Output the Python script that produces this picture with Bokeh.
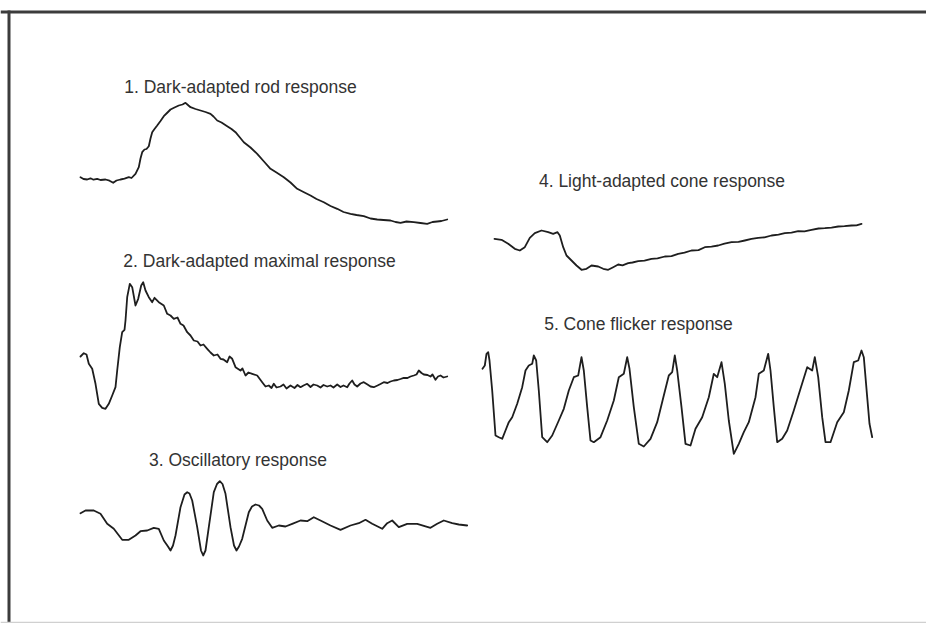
from bokeh.plotting import figure
from bokeh.models import Range1d, Span, ColumnDataSource
from bokeh.embed import file_html
from bokeh.resources import INLINE
from bokeh.core.properties import value

# ---------------- data (time in sample units, amplitude in relative units) ----------------
rod_t = [0, 3, 6.7, 10, 13, 16.7, 20, 25, 29, 32.7, 36, 40, 44, 48.3, 51, 55, 58.3, 60, 61.7, 64, 66,
         68.3, 70, 71.7, 74, 76.7, 80, 83.3, 86.5, 90, 94, 98.3, 102, 105, 108, 110, 115, 120, 125, 130,
         133, 136.7, 141, 146.7, 151, 155, 159, 163.3, 170, 176.7, 183, 190, 196, 203.3, 210, 216.7, 223,
         230, 236, 243.3, 250, 256.7, 263, 270, 276, 283.3, 290, 296.7, 303, 310, 315, 320, 326, 333.3,
         340, 346.7, 352, 356.7, 361, 366.7]
rod_v = [3.3, 1.5, 1, 2.2, 0.8, 1.7, 0.5, 1, -0.2, -2.3, 0, 1, 1.8, 3.3, 2.5, 6.7, 13.3, 22, 28.3, 31, 31.5,
         34.3, 42, 48.3, 51.5, 55, 59.5, 64.3, 67.5, 71, 73, 75, 76, 77.7, 75, 73.3, 71.5, 70, 68.5, 66.7,
         64, 60, 58, 54.3, 51.5, 48.3, 43.5, 38.3, 33, 26.7, 19.5, 11.7, 8, 3.3, -2, -8.3, -11.5,
         -15, -18.5, -21.7, -25.5, -28.3, -31.5, -33.3, -34.5, -35.7, -38, -39, -39.5, -40, -41.5, -42.3, -41, -41.7,
         -42.5, -43.3, -41.5, -41, -40.5, -39]

max_t = [0, 3.3, 6, 8.3, 11.7, 15, 18.3, 21.7, 25, 28.3, 31.7, 35, 36.7, 39.3, 41.7, 44, 45, 46.7, 49.3, 51.7,
         55, 57.7, 60.7, 62.7, 65, 68.3, 71.7, 74, 78.3, 83.3, 86.7, 90, 93.3, 97, 100, 103, 106.7, 110,
         113.3, 117, 120, 123, 126.7, 130, 133.3, 137, 140, 143, 146.7, 149, 151.7, 155, 160, 162, 165, 168,
         171.7, 176.7, 181.7, 185, 188.3, 191, 193.3, 196, 200, 203, 206, 210, 214, 217, 220, 223, 226.7,
         230, 233, 236.7, 240, 243, 246.7, 250, 253, 256.7, 260, 263, 266.7, 269, 271.7, 274, 276.7, 280,
         283.3, 287, 290, 293.3, 297, 300, 303.3, 307, 310, 313.3, 317, 320, 323.3, 327, 330, 333.3, 336,
         338.3, 341, 343.3, 347, 350, 352, 355, 357.5, 360, 363, 366.7]
max_v = [4, 7.3, 6, -3.3, -8.3, -23.3, -43.3, -47.3, -48.3, -43.3, -35, -26.7, -10, 13.3, 28.3, 30.7, 40, 63.3, 76.7, 73.3,
         55, 61.7, 75, 78.3, 70, 63.3, 58.3, 62.7, 58.3, 55, 46.7, 45, 41.7, 43, 36.7, 35, 28.3, 25,
         20, 19, 15, 16, 11.7, 8, 5, 6, 1.7, 1, -1.7, 4, 1.7, -6.7, -10, -8, -15, -12,
         -13.3, -15, -21.7, -26, -25, -27.5, -23.3, -27, -26, -24, -28, -25, -27.5, -24.5, -26.7, -25, -23.3,
         -26.5, -24, -25, -27, -24.5, -26, -25, -27, -24, -26.5, -25, -26.7, -23, -20, -24, -26, -23,
         -21.7, -24, -26, -26.7, -25, -23.5, -21.7, -22.5, -21, -20, -19.5, -18.5, -17.3, -17.5, -16, -15, -14,
         -10, -12.5, -14, -14.5, -16, -14, -19.3, -16, -15, -17, -16]

osc_t = [0, 5, 13.3, 20, 26.7, 33.3, 41.7, 48.3, 55, 60, 66.7, 73.3, 78.3, 83.3, 87.5, 90, 92.5, 95, 100,
         104, 106.7, 109, 111.7, 116.7, 120.5, 122.7, 125, 128.3, 133.3, 136.5, 139.3, 142, 145, 150,
         153.5, 156, 158.5, 161.7, 168.3, 171.5, 175, 178.5, 181.7, 186.7, 191.7, 198.3, 205, 211.7, 220,
         226.7, 233.3, 240, 250, 260, 270, 278.3, 285, 291.7, 301.7, 306.7, 311.7, 318.3, 326.7, 336.7,
         350, 356.7, 363.3, 371.7, 378.3, 386.7]
osc_v = [7.3, 10, 10, 6.7, -3.3, -8.3, -19.3, -19.3, -15, -10.7, -10, -7.3, -8.3, -20, -26, -30, -25, -15, 13.3,
         26, 28.3, 27, 20, -6.7, -30, -35, -30, -6.7, 28.3, 36.5, 39.3, 36.5, 26.7, -6.7,
         -25, -30, -26, -18.3, 8.3, 14, 16, 15, 11.7, 0, -7.3, -5, -6, -3.3, 0,
         -0.7, 3.3, 0, -5, -9.3, -5, -2.7, 0.7, -3.3, -8.3, -2.7, 0, -6.7, -3.3, -3.3,
         -7.3, -3.3, 0, -2.7, -4, -5]

cone_t = [0, 7, 13.7, 20.3, 25.3, 30.3, 35.3, 40.3, 47, 53.7, 58.7, 63, 65.3, 68.7, 72, 77, 82, 87, 92, 97,
          103.7, 108.7, 113.7, 118.7, 123.7, 128, 133.7, 138, 143.7, 150, 157, 163, 170.3, 177, 183.7,
          190, 197, 204, 210.3, 217, 223.7, 230, 237, 244, 250.3, 257, 263.7, 270, 277, 284, 290.3, 297,
          303.7, 310, 317, 324, 330.3, 337, 343.7, 350, 357, 362, 367]
cone_v = [1.7, 0.7, -3.3, -8.3, -10, -6.7, 2.7, 7.3, 10, 8.3, 6.7, 8.3, 5, -6.7, -15, -20, -25, -29.3, -28.3, -25,
          -26, -28.3, -29.3, -26.7, -24, -24.8, -22.7, -22, -20.7, -20.2, -18.3, -17.9, -16, -15.6, -13.3,
          -12.2, -10, -9.6, -6.7, -6.2, -5, -3.2, -1.7, -1.4, 0, 1.6, 2.7, 3.2, 5, 5.8, 7.3, 7.8,
          9.3, 9.2, 10.7, 12, 12.3, 12.9, 14, 14.3, 15, 15.2, 16.7]

flk_t = [0, 2.3, 4, 5.7, 7, 9.7, 13, 16.3, 19.7, 23, 26.3, 29.7, 34.7, 39.7, 43, 46.3, 49.7, 51.3, 53.7,
         56.3, 59.7, 64.7, 69.7, 76.3, 81.3, 86.3, 91.3, 95.7, 99, 101.3, 104.7, 108, 111.3, 118, 124.7,
         131.3, 136.3, 141.3, 144.7, 147, 151.3, 156.3, 161.3, 168, 174.7, 181.3, 186.3, 189.7, 192.3,
         194.7, 199, 203, 208, 213, 219.7, 226.3, 231.3, 234.7, 239, 242.3, 246.3, 251.3, 256.3, 261.3,
         266.3, 273, 276.3, 281.3, 285.7, 288, 291.3, 294.7, 299.7, 304.7, 311.3, 318, 324.7, 329.7,
         332.3, 335.7, 339.7, 343, 348, 354.7, 361.3, 366.3, 371.3, 375.7, 379, 381.3, 384.7, 387, 389.7]
flk_v = [71.7, 75, 86.7, 88.3, 80, 50, 5, 3.3, 1.7, 10, 18.3, 23.3, 36.7, 53.3, 70, 75, 76.7, 85, 80,
         50, 3.3, -1.7, 5, 20, 31.7, 50, 63.3, 65, 83.3, 70, 33.3, 0, -1.7, 3.3, 20,
         40, 63.3, 66.7, 83.3, 71.7, 33.3, -3.3, -6, 1.7, 18.3, 45, 65, 68.3, 85,
         70, 33.3, -3.3, -5, 11.7, 23.3, 43.3, 66.7, 63.3, 78.3, 56.7, 20, -13.3, -3.3, 8.3,
         18.3, 43.3, 66.7, 70, 86.7, 70, 33.3, -1.7, 1.7, 10, 30, 51.7, 73.3, 70,
         83.3, 63.3, 23.3, -1.7, -1.7, 18.3, 28.3, 50, 78.3, 80, 90, 83.3, 43.3, 16.7, 3.3]

labels = ["1. Dark-adapted rod response",
          "2. Dark-adapted maximal response",
          "3. Oscillatory response",
          "4. Light-adapted cone response",
          "5. Cone flicker response"]

# ---------------- layout (pixels within the figure) ----------------
W, H = 926, 623
# origin (x of first sample, baseline y) of each trace
origins = [(80, 180), (80, 360), (80, 520), (494, 240), (482, 440)]
# label centre x and baseline y
label_pos = [(240, 86), (259, 260.5), (237.5, 459), (661.5, 180), (638, 323.5)]
traces = [(rod_t, rod_v), (max_t, max_v), (osc_t, osc_v), (cone_t, cone_v), (flk_t, flk_v)]

p = figure(width=W, height=H, output_backend="svg", toolbar_location=None,
           x_range=Range1d(0, W), y_range=Range1d(H, 0), min_border=0,
           x_axis_location=None, y_axis_location=None, tools="")
p.grid.visible = False
p.outline_line_color = None
p.background_fill_color = "white"
p.border_fill_color = "white"

for (tt, vv), (ox, oy) in zip(traces, origins):
    xs = [ox + t for t in tt]
    ys = [oy - v for v in vv]
    p.line(xs, ys, line_color="#1e1e1e", line_width=1.8, line_join="round", line_cap="round")

src = ColumnDataSource(dict(x=[lx for lx, ly in label_pos],
                            y=[ly for lx, ly in label_pos],
                            text=labels))
p.text(x="x", y="y", text="text", source=src, text_font=value("Liberation Sans"),
       text_font_size="17.5px", text_color="#333333", text_baseline="alphabetic", text_align="center")

# frame: dark top and left edges, faint bottom edge
p.add_layout(Span(location=11.5, dimension="width", line_color="#3c3c3c", line_width=3))
p.segment(x0=[8.5], y0=[10], x1=[8.5], y1=[H], line_color="#3c3c3c", line_width=3)
p.add_layout(Span(location=H - 1, dimension="width", line_color="#d0d0d0", line_width=1.5))

open("out.html", "w").write(file_html(p, INLINE))
